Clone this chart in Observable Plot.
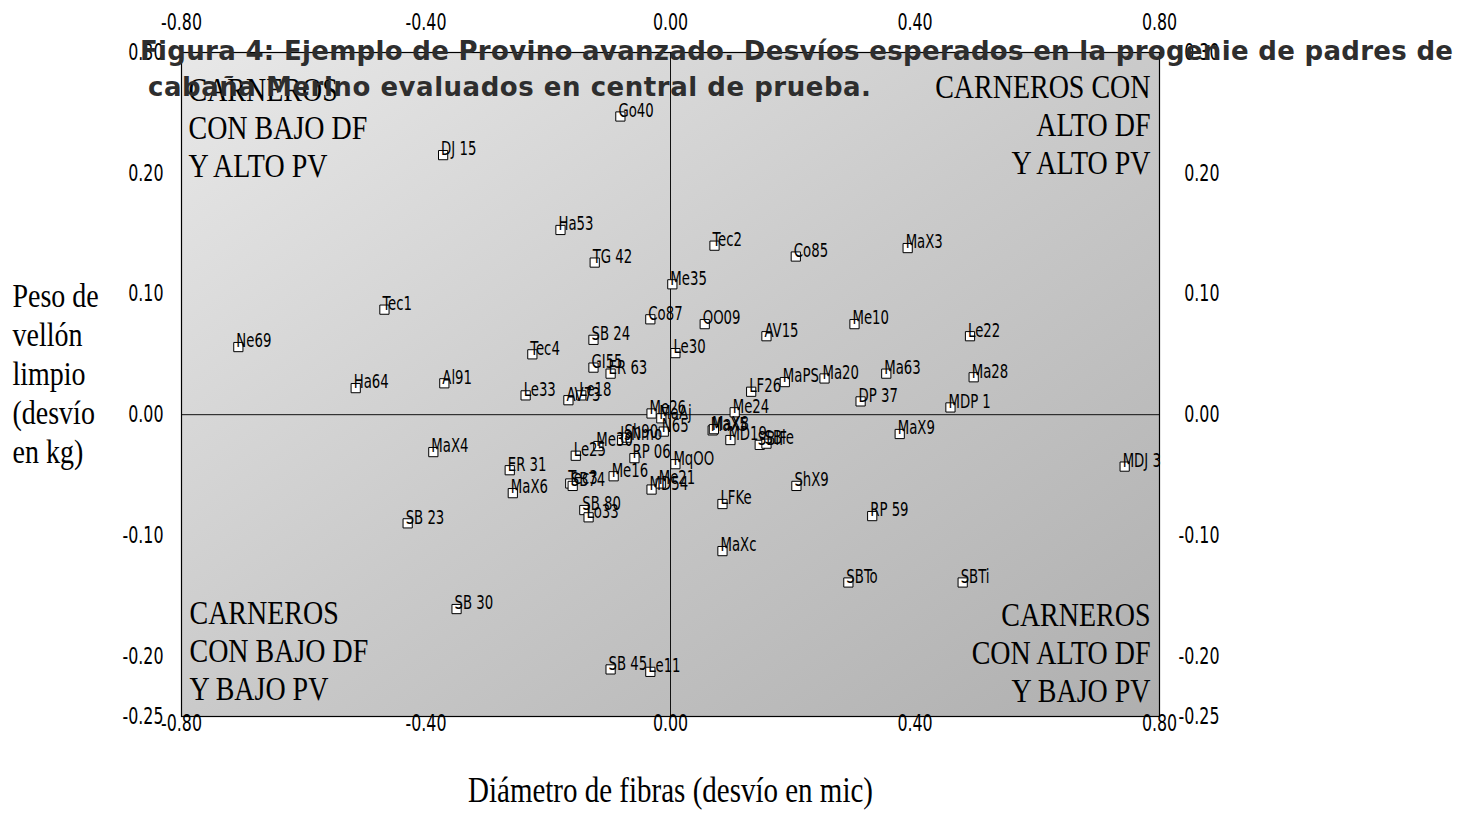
<!DOCTYPE html>
<html><head><meta charset="utf-8">
<script src="https://cdn.jsdelivr.net/npm/d3@7"></script>
<script src="https://cdn.jsdelivr.net/npm/@observablehq/plot@0.6"></script>
<style>
body{margin:0;background:#fff;}
#wrap{position:relative;width:1463px;height:832px;overflow:hidden;}
#title{position:absolute;left:0;top:0;font-family:"DejaVu Sans",Verdana,sans-serif;font-weight:bold;font-size:26px;color:#2e2e2e;white-space:nowrap;pointer-events:none;}
#title span{position:absolute;line-height:30px;}
</style></head><body>
<div id="wrap"><div id="chart"></div>
<div id="title"><span id="t1">Figura 4: Ejemplo de Provino avanzado. Desvíos esperados en la progenie de padres de</span><span id="t2">cabaña Merino evaluados en central de prueba.</span></div>
</div>
<script>
const names = ["Go40","DJ 15","Ha53","TG 42","Tec2","Co85","MaX3","Me35","Tec1","Co87","OO09","Me10","AV15","Le22","Ne69","SB 24","Le30","Tec4","GI55","ER 63","MaPS","Ma20","Ma63","Ma28","LF26","DP 37","MDP 1","Me24","Ha64","Al91","Le33","AV73","Le18","Me26","MaAj","N65","Me30","IsNmo","Sh90","Le25","RP 06","MqOO","Me16","MD54","Me21","Tec3","SB74","ER 31","MaX6","SB 80","Lo33","MaX4","SB 23","SB 30","SB 45","Le11","MaX5","MaX8","MD19","SBIF","SBle","MaX9","MDJ 3","ShX9","LFKe","RP 59","MaXc","SBTo","SBTi"];
const diamDev = [-0.082,-0.372,-0.180,-0.124,0.072,0.205,0.388,0.003,-0.468,-0.033,0.056,0.301,0.157,0.490,-0.707,-0.126,0.008,-0.226,-0.126,-0.098,0.187,0.252,0.353,0.496,0.132,0.311,0.458,0.105,-0.515,-0.370,-0.237,-0.167,-0.146,-0.031,-0.015,-0.011,-0.118,-0.079,-0.072,-0.155,-0.059,0.008,-0.093,-0.031,-0.016,-0.164,-0.160,-0.263,-0.258,-0.141,-0.134,-0.388,-0.430,-0.350,-0.098,-0.033,0.069,0.071,0.098,0.146,0.157,0.375,0.743,0.206,0.085,0.330,0.085,0.291,0.478];
const pesoDev = [0.247,0.215,0.153,0.126,0.140,0.131,0.138,0.108,0.087,0.079,0.075,0.075,0.065,0.065,0.056,0.062,0.051,0.050,0.039,0.034,0.027,0.030,0.034,0.031,0.019,0.011,0.006,0.002,0.022,0.026,0.016,0.012,0.016,0.001,-0.003,-0.014,-0.026,-0.021,-0.019,-0.034,-0.036,-0.041,-0.051,-0.062,-0.057,-0.057,-0.059,-0.046,-0.065,-0.079,-0.085,-0.031,-0.090,-0.161,-0.211,-0.213,-0.013,-0.012,-0.021,-0.025,-0.024,-0.016,-0.043,-0.059,-0.074,-0.084,-0.113,-0.139,-0.139];
const xTicks = [-0.8,-0.4,0,0.4,0.8];
const yTicks = [-0.25,-0.2,-0.1,0,0.1,0.2,0.3];
const xTitle = "Diámetro de fibras (desvío en mic)";
const yTitle = ["Peso de","vellón","limpio","(desvío","en kg)"];
const quadTL = ["CARNEROS","CON BAJO DF","Y ALTO PV"];
const quadTR = ["CARNEROS CON","ALTO DF","Y ALTO PV"];
const quadBL = ["CARNEROS","CON BAJO DF","Y BAJO PV"];
const quadBR = ["CARNEROS","CON ALTO DF","Y BAJO PV"];

const data = names.map((n,i)=>({name:n, x:diamDev[i], y:pesoDev[i]}));
const fmt = d => d.toFixed(2);
const TICKF = "'DejaVu Sans Condensed',sans-serif";
const LABF = "'DejaVu Sans Condensed',Arial,sans-serif";
const SERIF = "'Liberation Serif','Times New Roman',serif";

const defs = () => {
  const ns = "http://www.w3.org/2000/svg";
  const d = document.createElementNS(ns,"defs");
  d.innerHTML = `<linearGradient id="bg" x1="0" y1="0" x2="1" y2="1">
    <stop offset="0" stop-color="#e8e8e8"/><stop offset="0.5" stop-color="#cacaca"/><stop offset="1" stop-color="#afafaf"/></linearGradient>`;
  return d;
};
const quad = (lines, anchor, tAnchor, dx, dy) => Plot.text([lines.join("\n")], {
  frameAnchor: anchor, textAnchor: tAnchor, lineAnchor: "top", dx, dy,
  fontFamily: SERIF, fontSize: 28, lineHeight: 1.09, fill: "black"
});
const tickOpts = {tickSize: 0, tickFormat: fmt, fontSize: 22, fontFamily: TICKF, fill: "black", label: null};

const chart = Plot.plot({
  width: 1463, height: 832,
  marginLeft: 181, marginRight: 304, marginTop: 52, marginBottom: 116,
  x: {domain: [-0.8, 0.8]},
  y: {domain: [-0.25, 0.3]},
  style: {background: "transparent", overflow: "visible"},
  marks: [
    defs,
    Plot.frame({fill: "url(#bg)"}),
    Plot.ruleX([0], {stroke: "#111", strokeWidth: 1}),
    Plot.ruleY([0], {stroke: "#111", strokeWidth: 1}),
    Plot.frame({stroke: "black", strokeWidth: 1.2}),
    Plot.axisX(xTicks, {...tickOpts, anchor: "top", tickPadding: 23}),
    Plot.axisX(xTicks, {...tickOpts, anchor: "bottom", tickPadding: -2}),
    Plot.axisY(yTicks, {...tickOpts, anchor: "left", tickPadding: 18}),
    Plot.axisY(yTicks, {...tickOpts, anchor: "right", tickPadding: 60, textAnchor: "end"}),
    quad(quadTL, "top-left", "start", 7, 22),
    quad(quadTR, "top-right", "end", -9, 19),
    quad(quadBL, "bottom-left", "start", 8, -119),
    quad(quadBR, "bottom-right", "end", -9, -117),
    Plot.dot(data, {x: "x", y: "y", symbol: "square", r: 5.2, fill: "white", stroke: "black", strokeWidth: 1}),
    Plot.text(data, {x: "x", y: "y", text: "name", textAnchor: "start", lineAnchor: "middle", dx: -2, dy: -6, fontSize: 18, fontFamily: LABF, fill: "black"}),
    Plot.text([xTitle], {frameAnchor: "bottom", lineAnchor: "middle", dy: 74, fontSize: 29, fontFamily: SERIF, fill: "black"}),
    Plot.text([yTitle.join("\n")], {frameAnchor: "top-left", textAnchor: "start", lineAnchor: "top", dx: -169, dy: 227, lineHeight: 1.12, fontSize: 28, fontFamily: SERIF, fill: "black"})
  ]
});
document.getElementById("chart").appendChild(chart);
function stretch(sel, sx, sy) {
  chart.querySelectorAll(sel).forEach(t => {
    const tr = t.getAttribute("transform");
    if (tr) t.setAttribute("transform", tr + ` scale(${sx},${sy})`);
  });
}
stretch('g[font-family*="Serif"] text', 1, 1.24);
stretch('g[font-family="' + TICKF + '"] text', 0.8, 1.05);
stretch('g[font-family*="Arial"] text', 0.82, 1.1);
// title placement and fitting
function place(id, left, baseline, target) {
  const el = document.getElementById(id);
  el.style.left = left + "px";
  el.style.top = (baseline - 24) + "px";
  const w = el.getBoundingClientRect().width;
  const n = el.textContent.length;
  el.style.letterSpacing = ((target - w) / (n - 1)) + "px";
}
place("t1", 140, 60, 1313);
place("t2", 148, 96, 723);
</script>
</body></html>
